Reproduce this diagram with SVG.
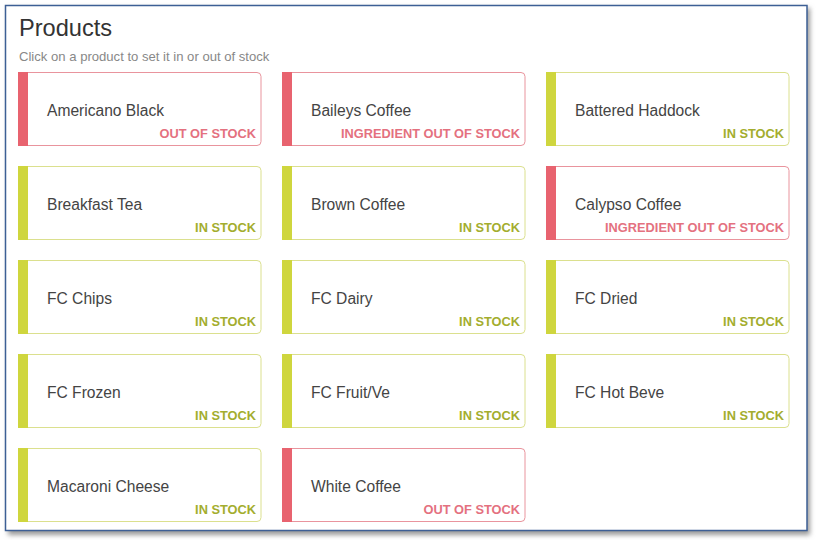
<svg xmlns="http://www.w3.org/2000/svg" width="819" height="540" viewBox="0 0 819 540">
<defs>
<filter id="sh" x="-5%" y="-5%" width="110%" height="110%">
<feGaussianBlur stdDeviation="2.5"/>
</filter>
</defs>
<style>
.name{font-family:"Liberation Sans",Arial,sans-serif;font-size:15.6px;fill:#444}
.st{font-family:"Liberation Sans",Arial,sans-serif;font-size:12.8px;font-weight:bold;text-anchor:end}
.red .box{fill:#fff;stroke:#e9949d;stroke-width:1}
.red .bar{fill:#e8636f}
.red .st{fill:#e4717f}
.grn .box{fill:#fff;stroke:#dbe08e;stroke-width:1}
.grn .bar{fill:#cfd63e}
.grn .st{fill:#a3ad2e}
</style>
<rect width="819" height="540" fill="#fff"/>
<rect x="8" y="8" width="802" height="527" fill="#9a9a9a" filter="url(#sh)"/>
<rect x="5.5" y="5.5" width="801.5" height="525" fill="#fff" stroke="#3d5f95" stroke-width="1.5"/>
<text x="19" y="36" font-family="'Liberation Sans',Arial,sans-serif" font-size="23.6" fill="#333">Products</text>
<text x="19" y="61" font-family="'Liberation Sans',Arial,sans-serif" font-size="13.1" fill="#888">Click on a product to set it in or out of stock</text>

<g id="p1" class="red" transform="translate(18,72)"><rect class="box" x="0.5" y="0.5" width="242.5" height="73" rx="4"/><rect class="bar" x="0" y="0" width="10" height="74"/><text class="name" x="29" y="44">Americano Black</text><text class="st" x="238" y="66">OUT OF STOCK</text></g>
<g id="p2" class="red" transform="translate(282,72)"><rect class="box" x="0.5" y="0.5" width="242.5" height="73" rx="4"/><rect class="bar" x="0" y="0" width="10" height="74"/><text class="name" x="29" y="44">Baileys Coffee</text><text class="st" x="238" y="66">INGREDIENT OUT OF STOCK</text></g>
<g id="p3" class="grn" transform="translate(546,72)"><rect class="box" x="0.5" y="0.5" width="242.5" height="73" rx="4"/><rect class="bar" x="0" y="0" width="10" height="74"/><text class="name" x="29" y="44">Battered Haddock</text><text class="st" x="238" y="66">IN STOCK</text></g>

<g id="p4" class="grn" transform="translate(18,166)"><rect class="box" x="0.5" y="0.5" width="242.5" height="73" rx="4"/><rect class="bar" x="0" y="0" width="10" height="74"/><text class="name" x="29" y="44">Breakfast Tea</text><text class="st" x="238" y="66">IN STOCK</text></g>
<g id="p5" class="grn" transform="translate(282,166)"><rect class="box" x="0.5" y="0.5" width="242.5" height="73" rx="4"/><rect class="bar" x="0" y="0" width="10" height="74"/><text class="name" x="29" y="44">Brown Coffee</text><text class="st" x="238" y="66">IN STOCK</text></g>
<g id="p6" class="red" transform="translate(546,166)"><rect class="box" x="0.5" y="0.5" width="242.5" height="73" rx="4"/><rect class="bar" x="0" y="0" width="10" height="74"/><text class="name" x="29" y="44">Calypso Coffee</text><text class="st" x="238" y="66">INGREDIENT OUT OF STOCK</text></g>

<g id="p7" class="grn" transform="translate(18,260)"><rect class="box" x="0.5" y="0.5" width="242.5" height="73" rx="4"/><rect class="bar" x="0" y="0" width="10" height="74"/><text class="name" x="29" y="44">FC Chips</text><text class="st" x="238" y="66">IN STOCK</text></g>
<g id="p8" class="grn" transform="translate(282,260)"><rect class="box" x="0.5" y="0.5" width="242.5" height="73" rx="4"/><rect class="bar" x="0" y="0" width="10" height="74"/><text class="name" x="29" y="44">FC Dairy</text><text class="st" x="238" y="66">IN STOCK</text></g>
<g id="p9" class="grn" transform="translate(546,260)"><rect class="box" x="0.5" y="0.5" width="242.5" height="73" rx="4"/><rect class="bar" x="0" y="0" width="10" height="74"/><text class="name" x="29" y="44">FC Dried</text><text class="st" x="238" y="66">IN STOCK</text></g>

<g id="p10" class="grn" transform="translate(18,354)"><rect class="box" x="0.5" y="0.5" width="242.5" height="73" rx="4"/><rect class="bar" x="0" y="0" width="10" height="74"/><text class="name" x="29" y="44">FC Frozen</text><text class="st" x="238" y="66">IN STOCK</text></g>
<g id="p11" class="grn" transform="translate(282,354)"><rect class="box" x="0.5" y="0.5" width="242.5" height="73" rx="4"/><rect class="bar" x="0" y="0" width="10" height="74"/><text class="name" x="29" y="44">FC Fruit/Ve</text><text class="st" x="238" y="66">IN STOCK</text></g>
<g id="p12" class="grn" transform="translate(546,354)"><rect class="box" x="0.5" y="0.5" width="242.5" height="73" rx="4"/><rect class="bar" x="0" y="0" width="10" height="74"/><text class="name" x="29" y="44">FC Hot Beve</text><text class="st" x="238" y="66">IN STOCK</text></g>

<g id="p13" class="grn" transform="translate(18,448)"><rect class="box" x="0.5" y="0.5" width="242.5" height="73" rx="4"/><rect class="bar" x="0" y="0" width="10" height="74"/><text class="name" x="29" y="44">Macaroni Cheese</text><text class="st" x="238" y="66">IN STOCK</text></g>
<g id="p14" class="red" transform="translate(282,448)"><rect class="box" x="0.5" y="0.5" width="242.5" height="73" rx="4"/><rect class="bar" x="0" y="0" width="10" height="74"/><text class="name" x="29" y="44">White Coffee</text><text class="st" x="238" y="66">OUT OF STOCK</text></g>
</svg>
